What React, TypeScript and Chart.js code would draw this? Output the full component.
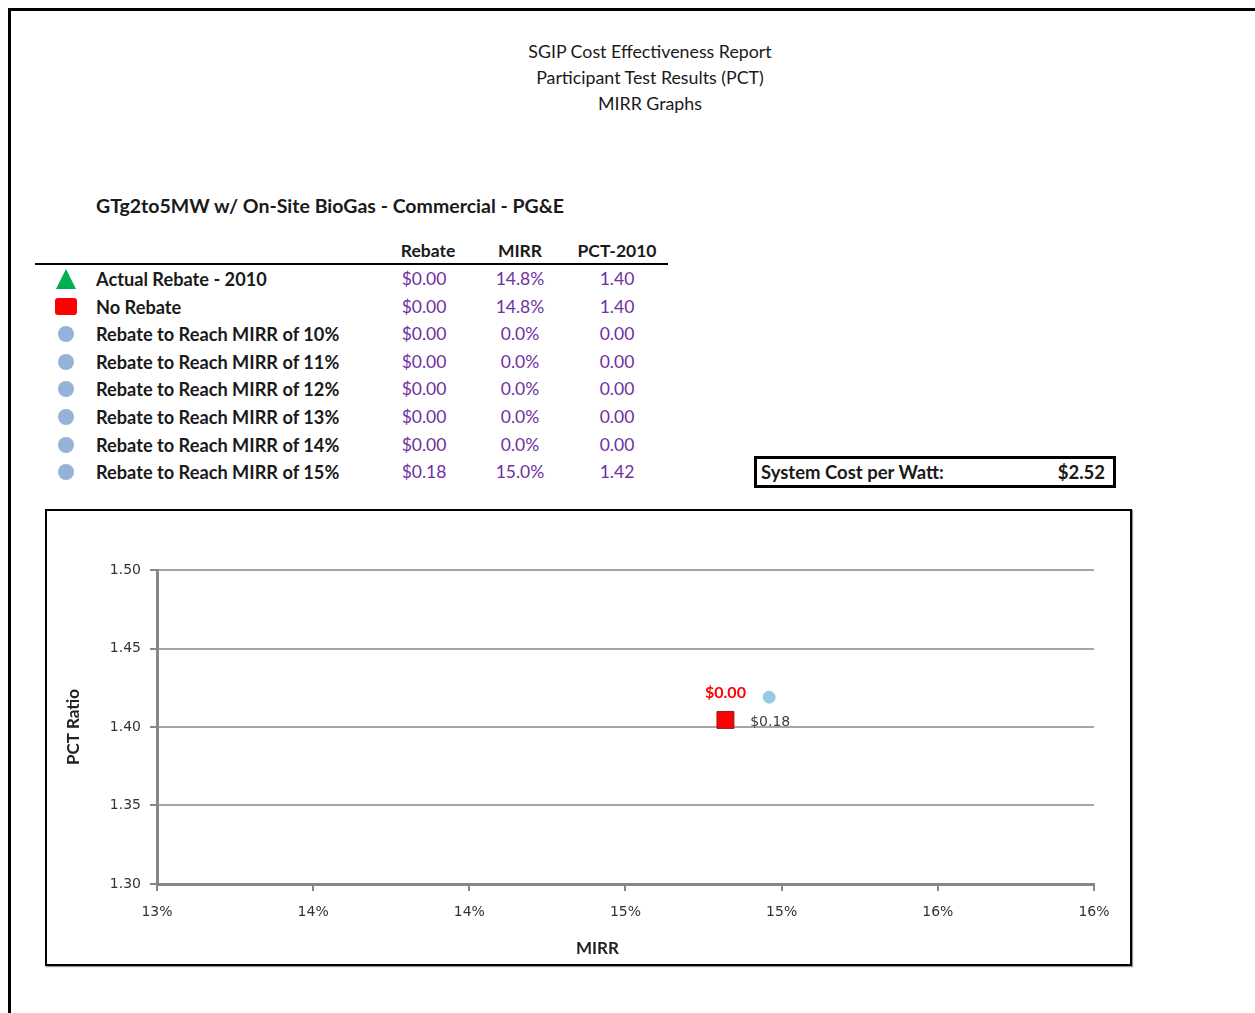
import React, { useEffect, useRef } from "react";
import { Chart, registerables } from "chart.js";

Chart.register(...registerables);

// ---------- Data ----------
const reportTitleLines = ["SGIP Cost Effectiveness Report", "Participant Test Results (PCT)", "MIRR Graphs"];
const subtitle = "GTg2to5MW w/ On-Site BioGas - Commercial - PG&E";
const tableHeaders = ["Rebate", "MIRR", "PCT-2010"];
const seriesNames = [
  "Actual Rebate - 2010",
  "No Rebate",
  "Rebate to Reach MIRR of 10%",
  "Rebate to Reach MIRR of 11%",
  "Rebate to Reach MIRR of 12%",
  "Rebate to Reach MIRR of 13%",
  "Rebate to Reach MIRR of 14%",
  "Rebate to Reach MIRR of 15%",
];
const seriesMarkers = ["triangle", "square", "circle", "circle", "circle", "circle", "circle", "circle"];
const rebateValues = [0, 0, 0, 0, 0, 0, 0, 0.18];
const mirrValues = [0.148, 0.148, 0, 0, 0, 0, 0, 0.15];
const pctValues = [1.4, 1.4, 0, 0, 0, 0, 0, 1.42];
const systemCostPerWatt = 2.52;

// plotted points
const actualPoint = { x: 0.1482, y: 1.4045 };
const noRebatePoint = { x: 0.1482, y: 1.4045 };
const mirr15Point = { x: 0.1496, y: 1.419 };
const noRebateLabel = "$0.00";
const mirr15Label = "$0.18";
const xAxisTitle = "MIRR";
const yAxisTitle = "PCT Ratio";

const xMin = 0.13;
const xMax = 0.16;
const xStep = 0.005;
const yMin = 1.3;
const yMax = 1.5;
const yStep = 0.05;

const FONT = "Lato, 'Open Sans', sans-serif";
const TICKFONT = "'DejaVu Sans', Verdana, sans-serif";
const PURPLE = "#7030A0";

const pointLabelPlugin = {
  id: "pointLabels",
  afterDatasetsDraw(chart: any) {
    const ctx = chart.ctx;
    chart.data.datasets.forEach((ds: any, i: number) => {
      if (!ds.pointLabel) return;
      const meta = chart.getDatasetMeta(i);
      meta.data.forEach((pt: any) => {
        const o = ds.pointLabel;
        ctx.save();
        ctx.font = o.font;
        ctx.fillStyle = o.color;
        ctx.textAlign = "center";
        ctx.textBaseline = "middle";
        ctx.fillText(o.text, pt.x + o.dx, pt.y + o.dy);
        ctx.restore();
      });
    });
  },
};

// x-axis title, centred slightly left of the plot area (as in the original)
const xTitlePlugin = {
  id: "xTitle",
  afterDraw(chart: any, _args: any, opts: any) {
    const ctx = chart.ctx;
    const xs = chart.scales.x;
    ctx.save();
    ctx.font = opts.font;
    ctx.fillStyle = opts.color;
    ctx.textAlign = "center";
    ctx.textBaseline = "middle";
    ctx.fillText(opts.text, (xs.left + xs.right) / 2 + opts.dx, xs.bottom - opts.fromBottom);
    ctx.restore();
  },
};

function Marker({ kind }: { kind: string }) {
  if (kind === "triangle") {
    return (
      <div
        style={{
          width: 0,
          height: 0,
          borderLeft: "10px solid transparent",
          borderRight: "10px solid transparent",
          borderBottom: "20px solid #00B050",
        }}
      />
    );
  }
  if (kind === "square") {
    return <div style={{ width: 22, height: 17, background: "#FF0000", borderRadius: 3 }} />;
  }
  return <div style={{ width: 16, height: 16, background: "#95B3D7", borderRadius: "50%" }} />;
}

export default function App() {
  const canvasRef = useRef<HTMLCanvasElement | null>(null);

  useEffect(() => {
    if (!canvasRef.current) return;
    const chart = new Chart(canvasRef.current, {
      type: "scatter",
      data: {
        datasets: [
          {
            label: seriesNames[0],
            data: [actualPoint],
            order: 3,
            pointStyle: "triangle",
            pointRadius: 7,
            backgroundColor: "#00B050",
            borderColor: "#00B050",
          } as any,
          {
            label: seriesNames[1],
            data: [noRebatePoint],
            order: 2,
            pointStyle: "rect",
            pointRadius: 12,
            backgroundColor: "#FF0000",
            borderColor: "#8B2020",
            borderWidth: 1,
            pointLabel: { text: noRebateLabel, font: `bold 16px ${FONT}`, color: "#FF0000", dx: 0, dy: -27 },
          } as any,
          {
            label: seriesNames[7],
            data: [mirr15Point],
            order: 1,
            pointStyle: "circle",
            pointRadius: 6,
            backgroundColor: "#93CDDD",
            borderColor: "#93CDDD",
            pointLabel: { text: mirr15Label, font: `14px ${TICKFONT}`, color: "#404040", dx: 1, dy: 25 },
          } as any,
        ],
      },
      options: {
        animation: false,
        responsive: false,
        devicePixelRatio: 1,
        layout: { padding: { top: 59, right: 36, left: 0, bottom: 0 } },
        plugins: {
          legend: { display: false },
          tooltip: { enabled: false },
          xTitle: { text: xAxisTitle, font: `bold 17px ${FONT}`, color: "#222", dx: -28, fromBottom: 15 },
        },
        scales: {
          x: {
            type: "linear",
            min: xMin,
            max: xMax,
            afterFit: (s: any) => {
              s.height = 80;
            },
            afterBuildTicks: (s: any) => {
              const t = [];
              for (let v = xMin; v <= xMax + 1e-9; v += xStep) t.push({ value: +v.toFixed(4) });
              s.ticks = t;
            },
            ticks: {
              padding: 13,
              color: "#333",
              font: { family: TICKFONT, size: 14 },
              maxRotation: 0,
              autoSkip: false,
              callback: (v: any) => `${Math.round(+(Number(v) * 100).toFixed(6))}%`,
            },
            grid: {
              display: true,
              drawOnChartArea: false,
              drawTicks: true,
              tickLength: 7,
              tickColor: "#868686",
              lineWidth: 2,
            },
            border: { display: true, color: "#868686", width: 3 },
            title: { display: false },
          },
          y: {
            type: "linear",
            min: yMin,
            max: yMax,
            afterFit: (s: any) => {
              s.width = 110;
            },
            ticks: {
              stepSize: yStep,
              padding: 9,
              color: "#333",
              font: { family: TICKFONT, size: 14 },
              callback: (v: any) => Number(v).toFixed(2),
            },
            grid: {
              color: "#A6A6A6",
              lineWidth: 2,
              tickLength: 7,
              tickColor: "#868686",
            },
            border: { display: true, color: "#868686", width: 3 },
            title: {
              display: true,
              text: yAxisTitle,
              color: "#222",
              font: { family: FONT, size: 17, weight: "bold" },
              padding: { top: 16, bottom: 0 },
            },
          },
        },
      } as any,
      plugins: [pointLabelPlugin, xTitlePlugin],
    });
    return () => chart.destroy();
  }, []);

  const rowTop = (i: number) => 279 + i * 27.6;
  const valueStyle = (cx: number, y: number): React.CSSProperties => ({
    position: "absolute",
    left: cx - 60,
    width: 120,
    top: y - 11,
    height: 22,
    lineHeight: "22px",
    textAlign: "center",
    color: PURPLE,
    fontSize: 17.5,
  });

  return (
    <div
      style={{
        position: "absolute",
        left: 0,
        top: 0,
        width: 1255,
        height: 1013,
        overflow: "hidden",
        background: "#fff",
        fontFamily: FONT,
        color: "#1a1a1a",
      }}
    >
      <div
        style={{
          position: "absolute",
          left: 8,
          top: 8,
          width: 1260,
          height: 1020,
          borderTop: "3px solid #000",
          borderLeft: "3px solid #000",
          boxSizing: "border-box",
        }}
      />
      {reportTitleLines.map((t, i) => (
        <div
          key={t}
          style={{
            position: "absolute",
            left: 350,
            width: 600,
            top: 51 + i * 26 - 12,
            height: 24,
            lineHeight: "24px",
            textAlign: "center",
            fontSize: 17.8,
          }}
        >
          {t}
        </div>
      ))}
      <div
        style={{
          position: "absolute",
          left: 96,
          top: 206 - 12,
          height: 24,
          lineHeight: "24px",
          fontSize: 19.5,
          fontWeight: "bold",
          whiteSpace: "nowrap",
        }}
      >
        {subtitle}
      </div>
      {tableHeaders.map((h, i) => (
        <div
          key={h}
          style={{
            position: "absolute",
            left: [428, 520, 617][i] - 60,
            width: 120,
            top: 251 - 11,
            height: 22,
            lineHeight: "22px",
            textAlign: "center",
            fontSize: 17.5,
            fontWeight: "bold",
          }}
        >
          {h}
        </div>
      ))}
      <div style={{ position: "absolute", left: 35, top: 263, width: 633, height: 2, background: "#000" }} />
      {seriesNames.map((name, i) => {
        const y = rowTop(i);
        return (
          <React.Fragment key={name}>
            <div
              style={{
                position: "absolute",
                left: 46,
                width: 40,
                top: y - 11,
                height: 22,
                display: "flex",
                alignItems: "center",
                justifyContent: "center",
              }}
            >
              <Marker kind={seriesMarkers[i]} />
            </div>
            <div
              style={{
                position: "absolute",
                left: 96,
                top: y - 11,
                height: 22,
                lineHeight: "22px",
                fontSize: 18.2,
                fontWeight: "bold",
                whiteSpace: "nowrap",
              }}
            >
              {name}
            </div>
            <div style={valueStyle(424, y)}>${rebateValues[i].toFixed(2)}</div>
            <div style={valueStyle(520, y)}>{(mirrValues[i] * 100).toFixed(1)}%</div>
            <div style={valueStyle(617, y)}>{pctValues[i].toFixed(2)}</div>
          </React.Fragment>
        );
      })}
      <div
        style={{
          position: "absolute",
          left: 754,
          top: 456,
          width: 362,
          height: 32,
          border: "3px solid #000",
          boxSizing: "border-box",
          display: "flex",
          alignItems: "center",
          justifyContent: "space-between",
          padding: "0 8px 0 4px",
          fontSize: 18.5,
          fontWeight: "bold",
        }}
      >
        <span>System Cost per Watt:</span>
        <span>${systemCostPerWatt.toFixed(2)}</span>
      </div>
      <div
        style={{
          position: "absolute",
          left: 45,
          top: 509,
          width: 1087,
          height: 457,
          border: "2px solid #000",
          boxSizing: "border-box",
          boxShadow: "1px 1px 1px #999",
        }}
      />
      <canvas
        ref={canvasRef}
        width={1083}
        height={453}
        style={{ position: "absolute", left: 47, top: 511, width: 1083, height: 453 }}
      />
    </div>
  );
}
